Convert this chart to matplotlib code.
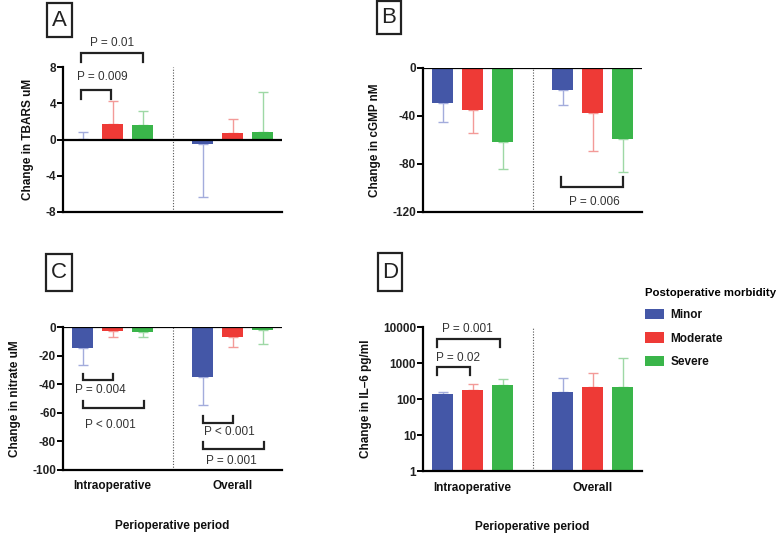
import matplotlib
matplotlib.use("Agg")
import matplotlib.pyplot as plt
from matplotlib.patches import Patch, Rectangle
import numpy as np

plt.rcParams['font.family'] = ['Liberation Sans', 'DejaVu Sans']
plt.rcParams['axes.unicode_minus'] = False

# ---------------- data ----------------
groups = ["Intraoperative", "Overall"]
series = ["Minor", "Moderate", "Severe"]

tbars_intra = [0.05, 1.7, 1.6]
tbars_intra_sd = [0.75, 2.5, 1.6]
tbars_overall = [-0.5, 0.7, 0.8]
tbars_overall_sd = [5.8, 1.6, 4.4]

cgmp_intra = [-29.2, -35.3, -61.4]
cgmp_intra_sd = [16.1, 19.1, 23.0]
cgmp_overall = [-18.0, -37.8, -58.9]
cgmp_overall_sd = [12.6, 31.1, 28.0]

nitrate_intra = [-14.7, -3.0, -3.3]
nitrate_intra_sd = [11.9, 3.8, 3.9]
nitrate_overall = [-35.0, -7.0, -1.9]
nitrate_overall_sd = [19.4, 6.8, 9.8]

il6_intra = [138, 174, 250]
il6_intra_sd = [22, 83, 105]
il6_overall = [160, 216, 220]
il6_overall_sd = [218, 327, 1123]

yticks_A = [-8, -4, 0, 4, 8]
yticks_B = [-120, -80, -40, 0]
yticks_C = [-100, -80, -60, -40, -20, 0]
yticks_D = [1, 10, 100, 1000, 10000]

# ---------------- style ----------------
bar_colors = ["#4457a7", "#ee3a36", "#3ab54a"]
err_colors = ["#a3acdc", "#f39a98", "#9ed8a5"]
group_centers = [0, 4]
offsets = [-1, 0, 1]
bar_w = 0.67
divider_x = 2

fig = plt.figure(figsize=(7.77, 5.33), dpi=100)
W, H = 777, 533


def add_axes(left, right, top, bottom):
    return fig.add_axes([left / W, 1 - bottom / H, (right - left) / W, (bottom - top) / H])


def draw_panel(ax, intra, intra_sd, overall, overall_sd, ylim, yticks, ylabel, log=False, zero_line=True):
    if log:
        ax.set_yscale('log')
    for gi, (vals, sds) in enumerate([(intra, intra_sd), (overall, overall_sd)]):
        for si in range(3):
            x = group_centers[gi] + offsets[si]
            v = vals[si]
            sd = sds[si]
            ax.bar(x, v, width=bar_w, color=bar_colors[si], zorder=2)
            end = v + sd if v >= 0 else v - sd
            ax.errorbar(x, v, yerr=[[v - end if end < v else 0], [end - v if end > v else 0]],
                        fmt='none', ecolor=err_colors[si], elinewidth=1.0, capsize=3.8,
                        capthick=1.0, zorder=1)
    ax.set_xlim(-1.65, 5.65)
    ax.set_ylim(*ylim)
    ax.set_yticks(yticks)
    if log:
        ax.set_yticklabels([str(t) for t in yticks])
        ax.yaxis.set_minor_locator(matplotlib.ticker.NullLocator())
    ax.axvline(divider_x, color='#555555', lw=0.8, ls=(0, (1, 1.5)), zorder=0)
    if zero_line:
        ax.axhline(0, color='black', lw=1.6, zorder=3)
    for s in ['top', 'right']:
        ax.spines[s].set_visible(False)
    for s in ['left', 'bottom']:
        ax.spines[s].set_linewidth(1.6)
    ax.tick_params(axis='x', length=0, labelbottom=False)
    ax.tick_params(axis='y', length=4, width=1.4, labelsize=8.5, pad=1, colors='black')
    for lbl in ax.get_yticklabels():
        lbl.set_fontweight('bold')
        lbl.set_color('#222222')
    ax.set_ylabel(ylabel, fontsize=8.5, fontweight='bold', labelpad=8, color='#111111')


def bracket(ax, x1, x2, y, ytip, text, ty, tx):
    ax.plot([x1, x1, x2, x2], [ytip, y, y, ytip], color='#222222', lw=1.6,
            solid_joinstyle='miter', clip_on=False, zorder=4)
    ax.text(tx, ty, text, ha='center', va='center', fontsize=8.5, color='#333333', clip_on=False)


def letter_box(x0, y0, x1, y1, letter):
    fig.patches.append(Rectangle((x0 / W, 1 - y1 / H), (x1 - x0) / W, (y1 - y0) / H,
                                 transform=fig.transFigure, fill=False, lw=1.6,
                                 edgecolor='#222222'))
    fig.text((x0 + x1) / 2 / W, 1 - (y0 + y1) / 2 / H, letter, ha='center', va='center',
             fontsize=16, color='#222222')


# Panel A
axA = add_axes(63, 282, 67, 212)
draw_panel(axA, tbars_intra, tbars_intra_sd, tbars_overall, tbars_overall_sd,
           (-8, 8), yticks_A, "Change in TBARS uM")
bracket(axA, -1.05, -0.05, 5.45, 4.5, "P = 0.009", 6.9, -0.35)
bracket(axA, -1.05, 1.0, 9.5, 8.5, "P = 0.01", 10.7, 0.0)
letter_box(47, 3, 72, 37, "A")

# Panel B
axB = add_axes(423, 642, 68, 212)
draw_panel(axB, cgmp_intra, cgmp_intra_sd, cgmp_overall, cgmp_overall_sd,
           (-120, 0), yticks_B, "Change in cGMP nM")
bracket(axB, 2.95, 5.0, -99, -90.5, "P = 0.006", -112, 4.05)
letter_box(377, 1, 401, 34, "B")

# Panel C
axC = add_axes(63, 282, 327, 470)
draw_panel(axC, nitrate_intra, nitrate_intra_sd, nitrate_overall, nitrate_overall_sd,
           (-100, 0), yticks_C, "Change in nitrate uM")
bracket(axC, -1.0, 0.0, -36.9, -32.7, "P = 0.004", -44.4, -0.4)
bracket(axC, -1.0, 1.05, -56.3, -51.9, "P < 0.001", -68.5, -0.07)
bracket(axC, 3.0, 4.0, -66.8, -62.1, "P < 0.001", -73.1, 3.9)
bracket(axC, 3.0, 5.05, -85.5, -80.6, "P = 0.001", -93.5, 3.95)
letter_box(46, 254, 72, 291, "C")

# Panel D
axD = add_axes(423, 642, 327, 471)
draw_panel(axD, il6_intra, il6_intra_sd, il6_overall, il6_overall_sd,
           (1, 10000), yticks_D, "Change in IL\u20136 pg/ml", log=True, zero_line=False)
bracket(axD, -1.2, -0.07, 760, 450, "P = 0.02", 1420, -0.47)
bracket(axD, -1.2, 0.93, 4650, 2760, "P = 0.001", 8800, -0.17)
letter_box(378, 253, 402, 291, "D")

# x tick group labels and x axis titles
for ax in (axC, axD):
    for gi, g in enumerate(groups):
        ax.text(group_centers[gi], -0.115, g, transform=ax.get_xaxis_transform(),
                ha='center', va='center', fontsize=8.5, fontweight='bold', color='#111111')
    ax.text(0.5, -0.39, "Perioperative period", transform=ax.transAxes,
            ha='center', va='center', fontsize=8.5, fontweight='bold', color='#111111')

# Legend
handles = [Patch(facecolor=c, edgecolor='none') for c in bar_colors]
leg = fig.legend(handles, series, loc='upper left', bbox_to_anchor=(634 / W, 1 - 277 / H),
                 frameon=False, title="Postoperative morbidity", fontsize=8.5,
                 handlelength=1.6, handleheight=1.0, labelspacing=0.95, handletextpad=0.6,
                 alignment='left', title_fontproperties={'weight': 'bold', 'size': 8.2})
for t in leg.get_texts():
    t.set_fontweight('bold')
    t.set_color('#111111')

fig.savefig("out.png", dpi=100)
